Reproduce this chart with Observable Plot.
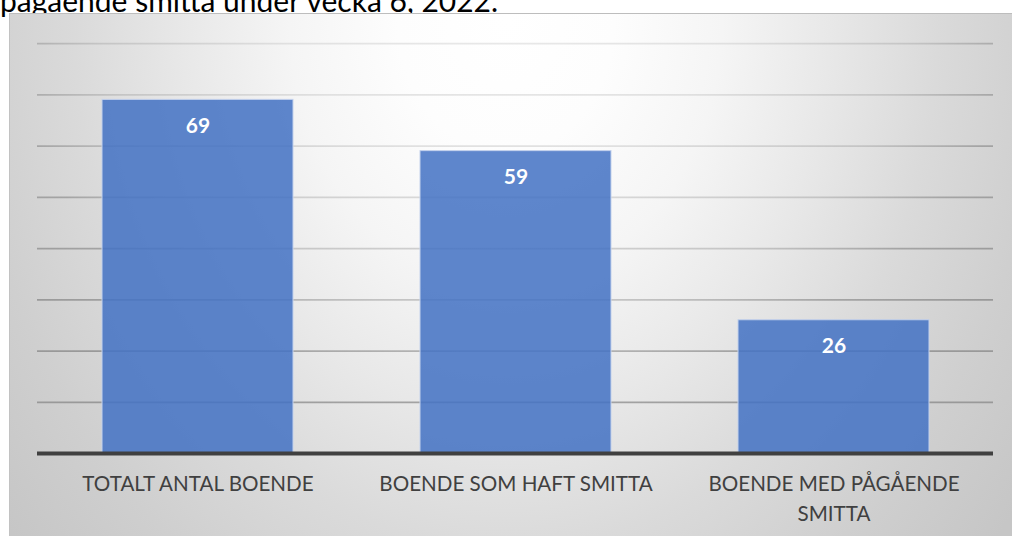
<!DOCTYPE html>
<html>
<head>
<meta charset="utf-8">
<script src="https://cdn.jsdelivr.net/npm/d3@7"></script>
<script src="https://cdn.jsdelivr.net/npm/@observablehq/plot@0.6"></script>
<style>
  html, body { margin: 0; padding: 0; background: #fff; overflow: hidden; width: 1012px; height: 536px; }
  #title {
    position: absolute; left: 0px; top: -15px; white-space: nowrap;
    font-family: Lato, "Open Sans", sans-serif; font-size: 30px; line-height: 30px; color: #000;
  }
  #box {
    position: absolute; left: 9px; top: 13px; width: 1002px; height: 522px;
    border-top: 1px solid #bdbdbd; border-left: 1px solid #c2c2c2;
    background: radial-gradient(ellipse 540px 660px at 496px 6px,
      #ffffff 0%, #fdfdfd 20%, #f5f5f5 40%, #e8e8e8 60%, #dadada 80%, #cfcfcf 100%, #c6c6c6 120%);
  }
  #box svg { position: absolute; left: 0; top: 0; }
</style>
</head>
<body>
<div id="title">pågående smitta under vecka 6, 2022.</div>
<div id="box"></div>
<script>
const categories = ["TOTALT ANTAL BOENDE", "BOENDE SOM HAFT SMITTA", "BOENDE MED PÅGÅENDE SMITTA"];
const tickLabels = ["TOTALT ANTAL BOENDE", "BOENDE SOM HAFT SMITTA", "BOENDE MED PÅGÅENDE\nSMITTA"];
const values = [69, 59, 26];
const gridTicks = [10, 20, 30, 40, 50, 60, 70, 80];

const data = categories.map((c, i) => ({category: c, value: values[i]}));

const chart = Plot.plot({
  width: 1002,
  height: 522,
  marginLeft: 27,
  marginRight: 19,
  marginTop: 29,
  marginBottom: 83,
  style: {background: "transparent", fontFamily: "Lato, 'Open Sans', sans-serif", overflow: "visible"},
  x: {domain: categories, paddingInner: 0.4, paddingOuter: 0.2, axis: null, label: null},
  y: {domain: [0, 80], axis: null},
  marks: [
    Plot.gridY(gridTicks, {stroke: "url(#gridGrad)", strokeOpacity: 1, strokeWidth: 1.75}),
    Plot.barY(data, {x: "category", y: "value", fill: "#4472c4", fillOpacity: 0.86, stroke: "#c3d1ec", strokeWidth: 1}),
    Plot.ruleY([0], {stroke: "#404040", strokeWidth: 4}),
    Plot.text(data, {x: "category", y: "value", text: d => String(d.value), dy: 26, fill: "#ffffff", fontWeight: "bold", fontSize: 21}),
    Plot.axisX({
      tickSize: 0, tickPadding: 16, fontSize: 20.6, fill: "#404040", lineHeight: 1.45, label: null,
      tickFormat: d => tickLabels[categories.indexOf(d)]
    })
  ]
});

const ns = "http://www.w3.org/2000/svg";
const defs = document.createElementNS(ns, "defs");
defs.innerHTML = `<radialGradient id="gridGrad" gradientUnits="userSpaceOnUse" cx="496" cy="-40" r="624"
  gradientTransform="translate(496,-40) scale(1,0.8077) translate(-496,40)">
  <stop offset="0" stop-color="#ececec"/>
  <stop offset="0.375" stop-color="#e0e0e0"/>
  <stop offset="0.667" stop-color="#c4c4c4"/>
  <stop offset="0.833" stop-color="#a4a4a4"/>
  <stop offset="1" stop-color="#999999"/>
</radialGradient>`;
chart.prepend(defs);
document.getElementById("box").appendChild(chart);
</script>
</body>
</html>
